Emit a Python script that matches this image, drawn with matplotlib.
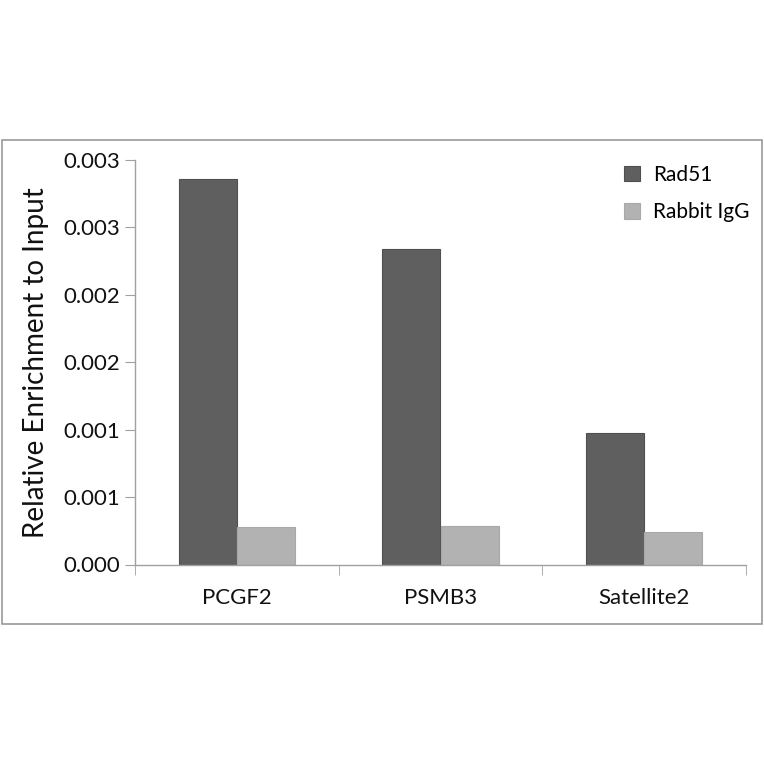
import numpy as np
import matplotlib
matplotlib.use('Agg')
import matplotlib.pyplot as plt
from matplotlib.patches import Rectangle

categories = ['PCGF2', 'PSMB3', 'Satellite2']
rad51 = [0.002857, 0.002340, 0.000973]
rabbit_igg = [0.000280, 0.000288, 0.000243]
y_ticks = [0.0, 0.0005, 0.001, 0.0015, 0.002, 0.0025, 0.003]
y_tick_labels = ['0.000', '0.001', '0.001', '0.002', '0.002', '0.003', '0.003']

plt.rcParams['font.family'] = ['Lato', 'DejaVu Sans']

fig = plt.figure(figsize=(7.64, 7.64), dpi=100)
fig.patches.append(Rectangle((2 / 764, 1 - 624 / 764), 760 / 764, 484 / 764,
                             transform=fig.transFigure, fill=False,
                             edgecolor='#9a9a9a', linewidth=1.2))

ax = fig.add_axes([135 / 764, 1 - 564.5 / 764, 611 / 764, 404.5 / 764])
x = np.arange(len(categories))
width = 0.2857
ax.bar(x - width / 2, rad51, width, color='#5f5f5f', edgecolor='#4f4f4f',
       linewidth=0.8, label='Rad51')
ax.bar(x + width / 2, rabbit_igg, width, color='#b2b2b2', edgecolor='#a8a8a8',
       linewidth=0.8, label='Rabbit IgG')

ax.set_xlim(-0.5, len(categories) - 0.5)
ax.set_ylim(0, 0.003)
ax.set_yticks(y_ticks)
ax.set_yticklabels(y_tick_labels, fontsize=16, color='#111111')
ax.set_xticks(x)
ax.set_xticklabels(categories, fontsize=16, color='#111111')
ax.tick_params(axis='x', length=0, pad=17)
ax.set_xticks(np.arange(len(categories) + 1) - 0.5, minor=True)
ax.tick_params(axis='x', which='minor', length=7, color='#a0a0a0', direction='out')
ax.tick_params(axis='y', length=7, color='#a0a0a0', direction='out', pad=4)

for side in ['top', 'right']:
    ax.spines[side].set_visible(False)
for side in ['left', 'bottom']:
    ax.spines[side].set_color('#a0a0a0')
    ax.spines[side].set_linewidth(1.0)

ax.set_ylabel('Relative Enrichment to Input', fontsize=20, color='#111111', labelpad=10)

ax.legend(loc='upper left', bbox_to_anchor=(605 / 764, 1 - 146 / 764),
          bbox_transform=fig.transFigure, frameon=False, fontsize=15,
          handlelength=0.8, handleheight=0.8, handletextpad=0.6,
          labelspacing=0.85)

fig.savefig('out.png', dpi=100, facecolor='white')
